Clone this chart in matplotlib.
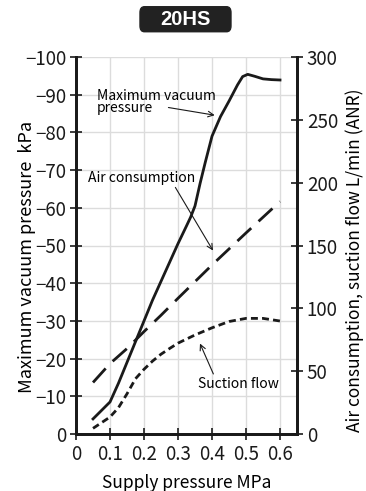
import matplotlib
matplotlib.use("Agg")
import matplotlib.pyplot as plt
from matplotlib.patches import FancyBboxPatch

plt.rcParams["font.family"] = ["Noto Sans CJK JP", "DejaVu Sans"]

# ─── Daten ───────────────────────────────────────────────────────────────────
vac_x = [0.05, 0.1, 0.125, 0.15, 0.175, 0.2, 0.225, 0.25, 0.275, 0.3, 0.325,
         0.337, 0.35, 0.365, 0.38, 0.39, 0.4, 0.425, 0.45, 0.475, 0.49, 0.505,
         0.525, 0.55, 0.575, 0.6]
vacuum = [-4, -8.5, -13.5, -19, -24.5, -30, -35.5, -40.5, -45.5, -50.5, -55.2,
          -57.5, -60.5, -66.5, -72, -75.5, -79, -84.2, -88.3, -92.6, -94.8,
          -95.4, -94.9, -94.2, -94, -93.9]

air_x = [0.05, 0.1, 0.15, 0.2, 0.25, 0.3, 0.4, 0.5, 0.6]
air_cons = [41, 56, 68, 81.5, 94.5, 108, 134.5, 160, 185]

suc_x = [0.05, 0.075, 0.1, 0.125, 0.15, 0.175, 0.2, 0.225, 0.25, 0.275, 0.3,
         0.35, 0.4, 0.45, 0.5, 0.55, 0.6]
suction = [4.5, 9, 13.5, 21, 32, 44, 51.5, 58, 63.5, 68, 72.3, 78.8, 84.5,
           89.5, 92, 92, 89.9]

xticks = [0, 0.1, 0.2, 0.3, 0.4, 0.5, 0.6]
xlabels = ["0", "0.1", "0.2", "0.3", "0.4", "0.5", "0.6"]
yticks_left = [0, -10, -20, -30, -40, -50, -60, -70, -80, -90, -100]
yticks_right = [0, 50, 100, 150, 200, 250, 300]

# ─── Diagramm ────────────────────────────────────────────────────────────────
fig = plt.figure(figsize=(3.66, 4.91), dpi=100)
ax = fig.add_axes([0.2077, 0.1161, 0.6038, 0.7678])
ax2 = ax.twinx()

ax.set_xlim(0, 0.65)
ax.set_ylim(0, -100)
ax2.set_ylim(0, 300)

ax.set_xticks(xticks)
ax.set_xticklabels(xlabels)
ax.set_yticks(yticks_left)
ax.set_yticklabels([f"−{abs(v)}" if v else "0" for v in yticks_left])
ax2.set_yticks(yticks_right)

ax.grid(True, color="#dcdcdc", linewidth=1.0)
ax.set_axisbelow(True)

for a in (ax, ax2):
    a.spines["top"].set_visible(False)
    for s in ("left", "right", "bottom"):
        a.spines[s].set_linewidth(2)
        a.spines[s].set_color("#1a1a1a")
    a.tick_params(direction="inout", length=8, width=1.2, labelsize=13.5,
                  colors="#1a1a1a", pad=3)

ax.plot(vac_x, vacuum, color="#1a1a1a", linewidth=2)
ax2.plot(air_x, air_cons, color="#1a1a1a", linewidth=2, dashes=(6.8, 3.6))
ax2.plot(suc_x, suction, color="#1a1a1a", linewidth=2, dashes=(2.5, 1.5))

def pfeil(rel):
    return dict(arrowstyle="->", color="#1a1a1a", linewidth=0.8,
                relpos=rel, shrinkA=0, shrinkB=1)

ax.annotate("Maximum vacuum\npressure", xy=(0.412, -84.5), xytext=(0.062, -88),
            fontsize=10, linespacing=0.85, va="center", ha="left",
            arrowprops=pfeil((0.6, 0.3)))
ax2.annotate("Air consumption", xy=(0.405, 145), xytext=(0.035, 204),
             fontsize=10, va="center", ha="left", arrowprops=pfeil((0.8, 0.0)))
ax2.annotate("Suction flow", xy=(0.363, 73), xytext=(0.36, 40),
             fontsize=10, va="center", ha="left", arrowprops=pfeil((0.2, 1.0)))

ax.set_xlabel("Supply pressure MPa", fontsize=12.5, labelpad=7)
ax.set_ylabel("Maximum vacuum pressure  kPa", fontsize=13)
ax.yaxis.set_label_coords(-0.222, 0.47)
ax.yaxis.label.set_verticalalignment("center")
ax2.set_ylabel("Air consumption, suction flow L/min (ANR)", fontsize=12.5)
ax2.yaxis.set_label_coords(1.262, 0.46)
ax2.yaxis.label.set_verticalalignment("center")

# Titelkasten
box = FancyBboxPatch((0.3825, 0.9354), 0.2486, 0.0509, transform=fig.transFigure,
                     boxstyle="round,pad=0,rounding_size=0.012",
                     facecolor="#222222", edgecolor="#222222")
fig.patches.append(box)
fig.text(0.507, 0.9605, "20HS", ha="center", va="center", fontsize=14.5,
         fontweight="bold", color="white", family="Liberation Sans")

plt.savefig("out.png", dpi=100)
plt.close()
